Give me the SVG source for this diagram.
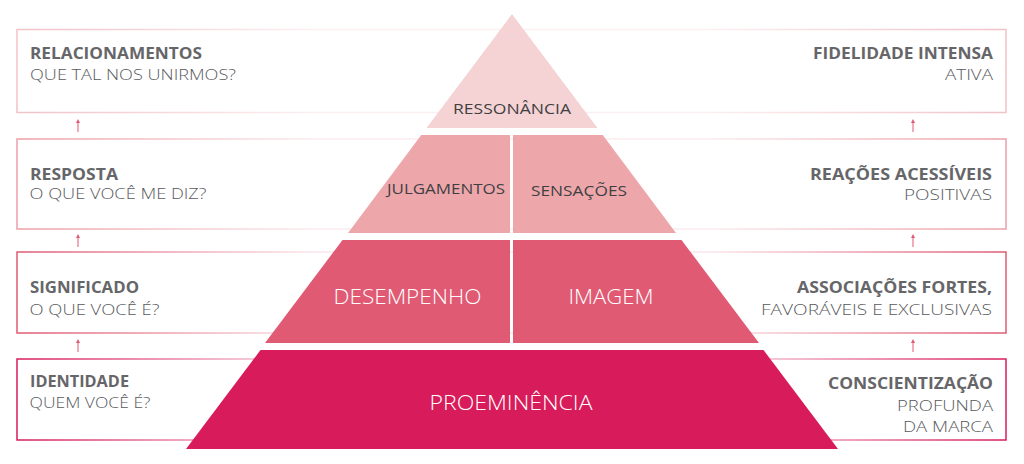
<svg xmlns="http://www.w3.org/2000/svg" width="1024" height="464" viewBox="0 0 1024 464">
  <style>
    .h { font-family: "Open Sans", "Liberation Sans", sans-serif; font-weight: 700; font-size: 15.5px; fill: #666669; }
    .s { font-family: "Open Sans", "Liberation Sans", sans-serif; font-weight: 300; font-size: 15px; fill: #58595c; }
    .pd { font-family: "Open Sans", "Liberation Sans", sans-serif; font-weight: 400; font-size: 15px; fill: #3f3f42; }
    .pw { font-family: "Open Sans", "Liberation Sans", sans-serif; font-weight: 300; font-size: 21px; fill: #ffffff; }
    .row { fill: none; stroke-width: 1.5; }
    .arr { stroke: #e05a73; stroke-width: 1; fill: none; marker-end: url(#ah); }
  </style>
  <defs>
    <marker id="ah" viewBox="0 0 6 6" refX="3" refY="3" markerWidth="4" markerHeight="4" orient="auto">
      <path d="M0,0 L6,3 L0,6 z" fill="#e05a73"/>
    </marker>
    <linearGradient id="g1" gradientUnits="userSpaceOnUse" x1="17" y1="0" x2="1007" y2="0">
      <stop offset="0" stop-color="#f2c2c7"/>
      <stop offset="0.3" stop-color="#f2c2c7" stop-opacity="0.25"/>
      <stop offset="0.7" stop-color="#f2c2c7" stop-opacity="0.25"/>
      <stop offset="1" stop-color="#f2c2c7"/>
    </linearGradient>
    <linearGradient id="g2" gradientUnits="userSpaceOnUse" x1="17" y1="0" x2="1007" y2="0">
      <stop offset="0" stop-color="#ec9ea8"/>
      <stop offset="0.3" stop-color="#ec9ea8" stop-opacity="0.2"/>
      <stop offset="0.7" stop-color="#ec9ea8" stop-opacity="0.2"/>
      <stop offset="1" stop-color="#ec9ea8"/>
    </linearGradient>
    <linearGradient id="g3" gradientUnits="userSpaceOnUse" x1="17" y1="0" x2="1007" y2="0">
      <stop offset="0" stop-color="#e05a73"/>
      <stop offset="0.3" stop-color="#e05a73" stop-opacity="0.15"/>
      <stop offset="0.7" stop-color="#e05a73" stop-opacity="0.15"/>
      <stop offset="1" stop-color="#e05a73"/>
    </linearGradient>
    <linearGradient id="g4" gradientUnits="userSpaceOnUse" x1="17" y1="0" x2="1007" y2="0">
      <stop offset="0" stop-color="#d81b5a"/>
      <stop offset="0.3" stop-color="#d81b5a" stop-opacity="0.15"/>
      <stop offset="0.7" stop-color="#d81b5a" stop-opacity="0.15"/>
      <stop offset="1" stop-color="#d81b5a"/>
    </linearGradient>
  </defs>
  <rect width="1024" height="464" fill="#ffffff"/>

  <g id="row-relacionamentos">
    <rect class="row" x="17" y="29.5" width="989" height="83" stroke="url(#g1)"/>
    <text class="h" x="30" y="59" textLength="172" lengthAdjust="spacingAndGlyphs">RELACIONAMENTOS</text>
    <text class="s" x="30" y="80" textLength="206" lengthAdjust="spacingAndGlyphs">QUE TAL NOS UNIRMOS?</text>
    <text class="h" x="993" y="59" text-anchor="end" textLength="180" lengthAdjust="spacingAndGlyphs">FIDELIDADE INTENSA</text>
    <text class="s" x="993" y="80" text-anchor="end" textLength="48" lengthAdjust="spacingAndGlyphs">ATIVA</text>
  </g>
  <g id="row-resposta">
    <rect class="row" x="17" y="139" width="989" height="90" stroke="url(#g2)"/>
    <text class="h" x="30" y="180" textLength="88" lengthAdjust="spacingAndGlyphs">RESPOSTA</text>
    <text class="s" x="29.5" y="199" textLength="177" lengthAdjust="spacingAndGlyphs">O QUE VOCÊ ME DIZ?</text>
    <text class="h" x="992" y="180" text-anchor="end" textLength="182" lengthAdjust="spacingAndGlyphs">REAÇÕES ACESSÍVEIS</text>
    <text class="s" x="992" y="200" text-anchor="end" textLength="88" lengthAdjust="spacingAndGlyphs">POSITIVAS</text>
  </g>
  <g id="row-significado">
    <rect class="row" x="17" y="252" width="989" height="81" stroke="url(#g3)"/>
    <text class="h" x="30" y="293" textLength="109" lengthAdjust="spacingAndGlyphs">SIGNIFICADO</text>
    <text class="s" x="29.5" y="315" textLength="130" lengthAdjust="spacingAndGlyphs">O QUE VOCÊ É?</text>
    <text class="h" x="992" y="293" text-anchor="end" textLength="195" lengthAdjust="spacingAndGlyphs">ASSOCIAÇÕES FORTES,</text>
    <text class="s" x="992" y="315" text-anchor="end" textLength="231" lengthAdjust="spacingAndGlyphs">FAVORÁVEIS E EXCLUSIVAS</text>
  </g>
  <g id="row-identidade">
    <rect class="row" x="17" y="359" width="989" height="81" stroke="url(#g4)"/>
    <text class="h" x="30" y="387" textLength="99" lengthAdjust="spacingAndGlyphs">IDENTIDADE</text>
    <text class="s" x="29.5" y="408" textLength="121" lengthAdjust="spacingAndGlyphs">QUEM VOCÊ É?</text>
    <text class="h" x="993" y="389" text-anchor="end" textLength="165" lengthAdjust="spacingAndGlyphs">CONSCIENTIZAÇÃO</text>
    <text class="s" x="993" y="411" text-anchor="end" textLength="96" lengthAdjust="spacingAndGlyphs">PROFUNDA</text>
    <text class="s" x="993" y="432" text-anchor="end" textLength="90" lengthAdjust="spacingAndGlyphs">DA MARCA</text>
  </g>

  <g id="connectors">
    <line class="arr" x1="78" y1="132" x2="78" y2="121"/>
    <line class="arr" x1="78" y1="247" x2="78" y2="236"/>
    <line class="arr" x1="78" y1="352" x2="78" y2="341"/>
    <line class="arr" x1="913" y1="132" x2="913" y2="121"/>
    <line class="arr" x1="913" y1="247" x2="913" y2="236"/>
    <line class="arr" x1="913" y1="352" x2="913" y2="341"/>
  </g>

  <g id="tier-ressonancia">
    <polygon points="512,14 597.5,128 426.5,128" fill="#f5d3d5"/>
    <text class="pd" x="512" y="114" text-anchor="middle" textLength="118" lengthAdjust="spacingAndGlyphs">RESSONÂNCIA</text>
  </g>
  <g id="tier-julgamentos">
    <polygon points="421.25,135 510,135 510,233 348,233" fill="#eda7ab"/>
    <text class="pd" x="446" y="194" text-anchor="middle" textLength="118" lengthAdjust="spacingAndGlyphs">JULGAMENTOS</text>
  </g>
  <g id="tier-sensacoes">
    <polygon points="513,135 602.75,135 676,233 513,233" fill="#eda7ab"/>
    <text class="pd" x="579" y="196" text-anchor="middle" textLength="96" lengthAdjust="spacingAndGlyphs">SENSAÇÕES</text>
  </g>
  <g id="tier-desempenho">
    <polygon points="342.5,240 510,240 510,343 265,343" fill="#e05a73"/>
    <text class="pw" x="407.5" y="303.5" text-anchor="middle" textLength="148" lengthAdjust="spacingAndGlyphs">DESEMPENHO</text>
  </g>
  <g id="tier-imagem">
    <polygon points="513,240 681.5,240 759,343 513,343" fill="#e05a73"/>
    <text class="pw" x="611" y="303.5" text-anchor="middle" textLength="85" lengthAdjust="spacingAndGlyphs">IMAGEM</text>
  </g>
  <g id="tier-proeminencia">
    <polygon points="260.5,350 763.5,350 838,449 186,449" fill="#d81b5a"/>
    <text class="pw" x="511" y="409.5" text-anchor="middle" textLength="163" lengthAdjust="spacingAndGlyphs">PROEMINÊNCIA</text>
  </g>
</svg>
